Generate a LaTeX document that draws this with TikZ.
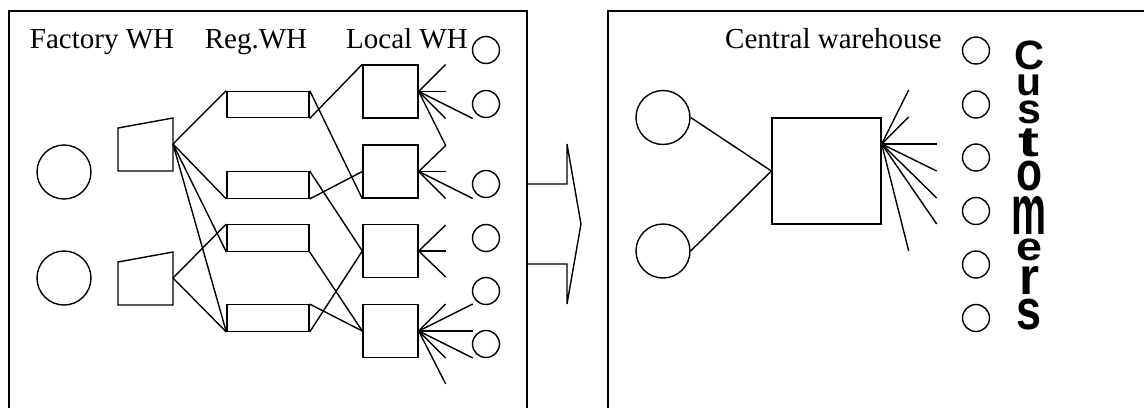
\documentclass[tikz,border=0pt]{standalone}
\usepackage{fontspec}
\setmainfont{Liberation Serif}
\setsansfont{Liberation Sans}
\usepackage{graphicx}
\usetikzlibrary{calc}

\begin{document}
\begin{tikzpicture}[
	x=0.02cm, y=-0.02cm,
	line width=0.8pt,
	lbl/.style={anchor=base, inner sep=0pt, font=\fontsize{16.5}{18}\selectfont},
	plant/.style={draw, circle, minimum size=1.08cm, inner sep=0pt},
	cust/.style={draw, circle, minimum size=0.54cm, inner sep=0pt},
	regwh/.style={draw, minimum width=1.64cm, minimum height=0.53cm, inner sep=0pt},
	locwh/.style={draw, minimum width=1.1cm, minimum height=1.06cm, inner sep=0pt}
]
	\clip (0,0) rectangle (1144,407);

	% frames and the arrow between them
	\draw (9,11) rectangle (527,430);
	\draw (608,11) rectangle (1160,430);
	\draw (527,184) -- (567,184) -- (567,144) -- (581,224) -- (567,304) -- (567,264) -- (527,264);

	% --- decentralised network ---
	\node[lbl] (lf) at (102,48) {Factory WH};
	\node[lbl] (lr) at (256,48) {Reg.WH};
	\node[lbl] (ll) at (407,48) {Local WH};

	\node[plant] (p1) at (64,172) {};
	\node[plant] (p2) at (64,278) {};
	\foreach \y [count=\i] in {0,134} {
		\draw (118,128+\y) -- (173,118+\y) -- (173,171+\y) -- (118,171+\y) -- cycle;
		\coordinate (t\i) at (173,144+\y);
	}
	\foreach \y [count=\i] in {104.5,185,238,318}
		\node[regwh] (r\i) at (268,\y) {};
	\foreach \y [count=\i] in {91.5,171.5,251,331}
		\node[locwh] (l\i) at (390.5,\y) {};
	\foreach \y [count=\i] in {50,104,184,238,291,344}
		\node[cust] (c\i) at (486,\y) {};

	\draw (t1) -- (r1.north west);
	\foreach \r in {2,3,4}
		\draw (t1) -- (r\r.south west);
	\draw (t2) -- (r3.north west);
	\draw (t2) -- (r4.south west);

	\draw (r1.south east) -- (l1.north west);
	\draw (r1.north east) -- (l2.south west);
	\draw (r2.south east) -- (l2.west);
	\draw (r2.north east) -- (l3.west);
	\draw (r3.south east) -- (l4.west);
	\draw (r4.north east) -- (l4.west);
	\draw (r4.south east) -- (l3.west);

	% deliveries out of the local warehouses
	\foreach \dx/\dy in {27/-27,27/0,54/27,27/27}
		\draw (l1.east) -- ++(\dx,\dy);
	\draw (l1.east) -- ++(27,54) -- (l2.east);
	\foreach \dx/\dy in {27/0,54/27,27/27}
		\draw (l2.east) -- ++(\dx,\dy);
	\foreach \dx/\dy in {27/-26,27/0,27/26}
		\draw (l3.east) -- ++(\dx,\dy);
	\foreach \dx/\dy in {27/-27,54/-27,54/0,54/27,27/27,27/53}
		\draw (l4.east) -- ++(\dx,\dy);

	% --- central warehouse ---
	\node[lbl] (lc) at (833.5,48) {Central warehouse};
	\node[plant] (s1) at (663,117.5) {};
	\node[plant] (s2) at (663,251) {};
	\node[draw, minimum width=2.18cm, minimum height=2.12cm, inner sep=0pt] (cw) at (826.5,171) {};
	\draw (s1.east) -- (cw.west);
	\draw (s2.east) -- (cw.west);
	\coordinate (hub) at ($(cw.east)+(0,-27)$);
	\foreach \dx/\dy in {27/-54,27/-27,55/0,55/27,55/54,55/80,27/107}
		\draw (hub) -- ++(\dx,\dy);
	\foreach \y [count=\i] in {50.5,104.5,157.5,211,264.5,318}
		\node[cust] (k\i) at (976,\y) {};

	% stacked title, one stretched letter per line
	\node[anchor=north, inner sep=0pt, align=center,
		font={\sffamily\bfseries\baselineskip=0pt\lineskip=2.8pt}] (cu) at (1029,40) {%
		\resizebox*{0.6cm}{0.58cm}{C}\\ \resizebox*{0.5cm}{0.42cm}{u}\\
		\resizebox*{0.48cm}{0.46cm}{s}\\ \resizebox*{0.42cm}{0.56cm}{t}\\
		\resizebox*{0.52cm}{0.6cm}{o}\\ \resizebox*{0.7cm}{0.76cm}{m}\\
		\resizebox*{0.52cm}{0.44cm}{e}\\ \resizebox*{0.4cm}{0.56cm}{r}\\
		\resizebox*{0.5cm}{0.62cm}{s}};
\end{tikzpicture}
\end{document}
